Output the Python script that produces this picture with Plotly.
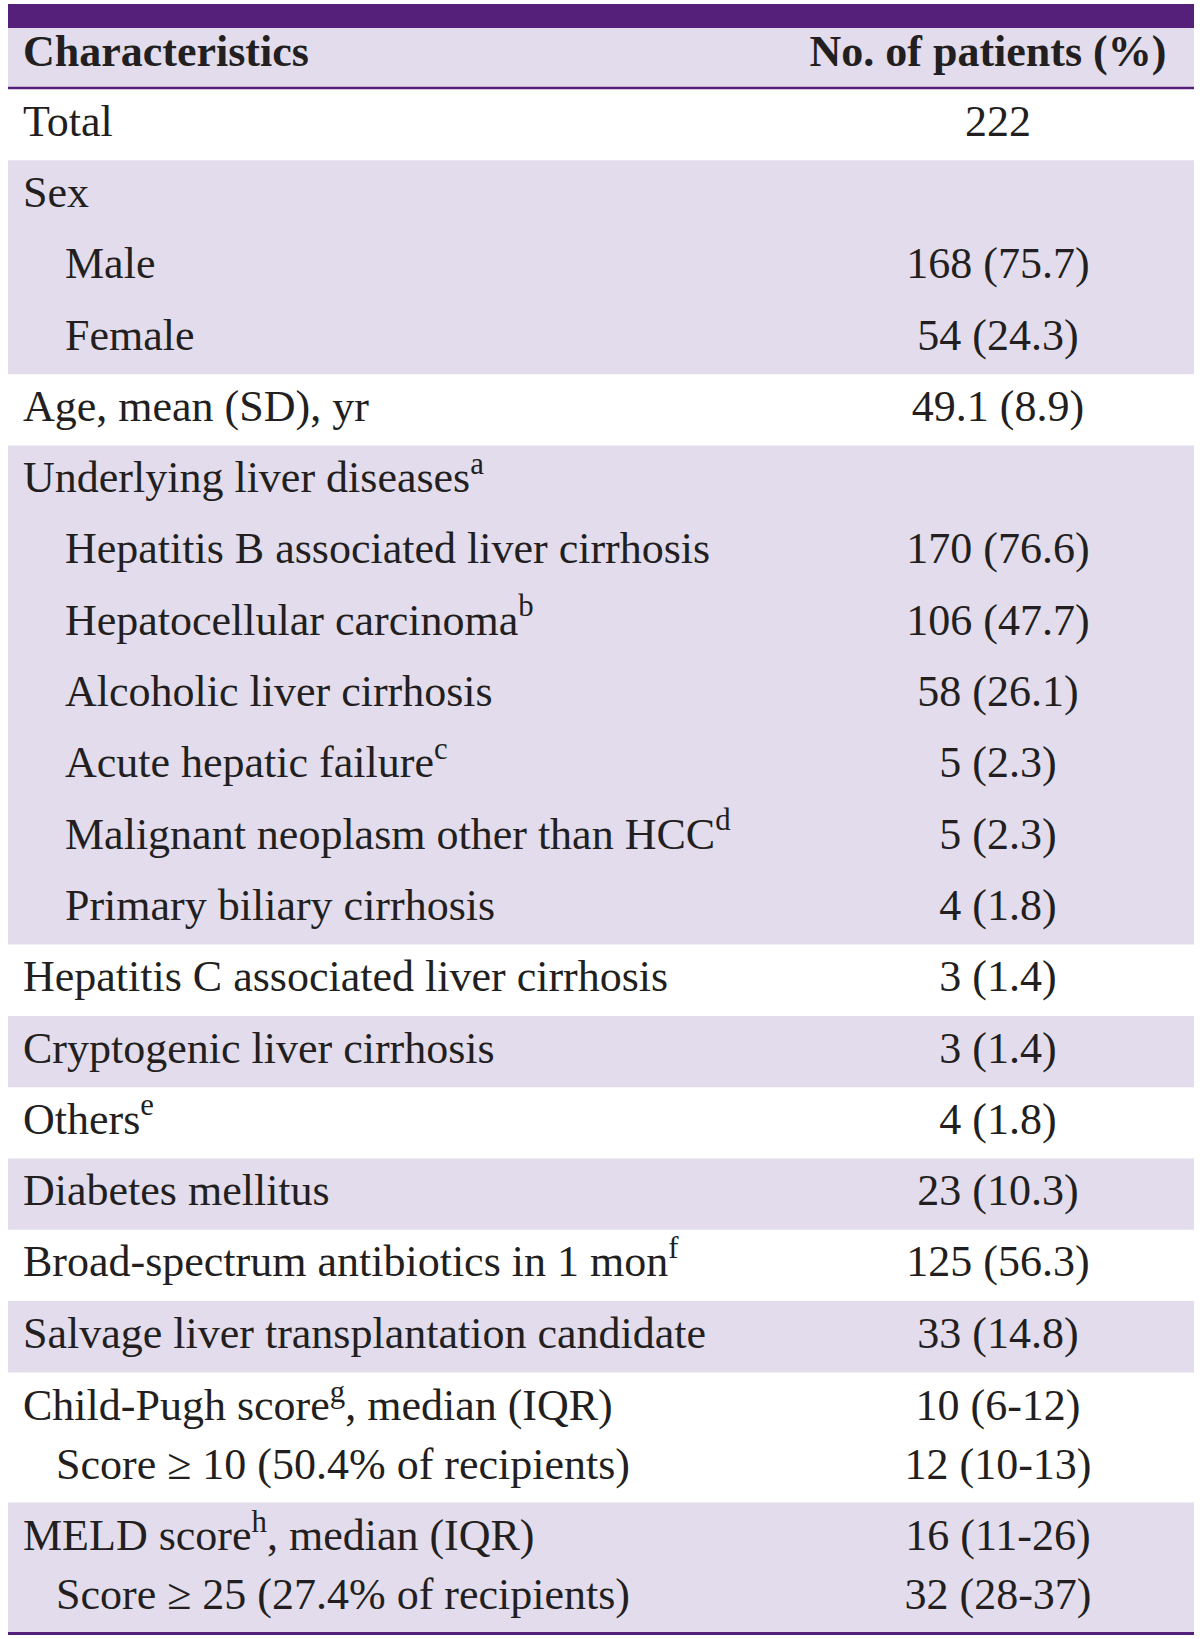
import plotly.graph_objects as go

# ---------------- data ----------------
header_left = "Characteristics"
header_right = "No. of patients (%)"

labels = [
    "Total", "Sex", "Male", "Female", "Age, mean (SD), yr",
    "Underlying liver diseases", "Hepatitis B associated liver cirrhosis",
    "Hepatocellular carcinoma", "Alcoholic liver cirrhosis",
    "Acute hepatic failure", "Malignant neoplasm other than HCC",
    "Primary biliary cirrhosis", "Hepatitis C associated liver cirrhosis",
    "Cryptogenic liver cirrhosis", "Others", "Diabetes mellitus",
    "Broad-spectrum antibiotics in 1 mon",
    "Salvage liver transplantation candidate",
    "Child-Pugh score, median (IQR)", "Score ≥ 10 (50.4% of recipients)",
    "MELD score, median (IQR)", "Score ≥ 25 (27.4% of recipients)",
]
footnotes = [
    "", "", "", "", "", "a", "", "b", "", "c", "d", "", "", "", "e", "",
    "f", "", "g", "", "h", "",
]
values = [
    "222", "", "168 (75.7)", "54 (24.3)", "49.1 (8.9)", "",
    "170 (76.6)", "106 (47.7)", "58 (26.1)", "5 (2.3)", "5 (2.3)",
    "4 (1.8)", "3 (1.4)", "3 (1.4)", "4 (1.8)", "23 (10.3)", "125 (56.3)",
    "33 (14.8)", "10 (6-12)", "12 (10-13)", "16 (11-26)", "32 (28-37)",
]
# 0 = top-level row, 1 = indented sub item, 2 = score sub line
levels = [0, 0, 1, 1, 0, 0, 1, 1, 1, 1, 1, 1, 0, 0, 0, 0, 0, 0, 0, 2, 0, 2]

# ---------------- style / layout ----------------
W, H = 1200, 1639
PURPLE = "#55207A"
LAVENDER = "#E2DCEC"
INK = "#231F20"
FONT = "Liberation Serif"
FS = 44
LEFT, RIGHT = 8, 1194
BAR_TOP, HEAD_TOP, HEAD_BOT = 4, 28, 87
BODY_TOP = 89
ROW_H = 71.3
COMPACT_H = 65
COMPACT_PARENT_SHIFT = 4.5
COMPACT_SUB_SHIFT = -2
X_LABEL = {0: 23, 1: 65, 2: 56}
X_VALUE = 998
X_HEAD_RIGHT = 988

# Label strings with footnote superscripts
label_text = []
for lab, fn in zip(labels, footnotes):
    if fn and " score," in lab:
        label_text.append(lab.replace(" score,", " score<sup>%s</sup>," % fn))
    elif fn:
        label_text.append(lab + "<sup>%s</sup>" % fn)
    else:
        label_text.append(lab)

# row geometry
n = len(labels)
compact = [levels[i] == 2 or (i + 1 < n and levels[i + 1] == 2) for i in range(n)]
tops, bots = [], []
y = BODY_TOP
for i in range(n):
    h = COMPACT_H if compact[i] else ROW_H
    tops.append(y)
    y += h
    bots.append(y)
TABLE_BOT = y
centers = []
for i in range(n):
    c = (tops[i] + bots[i]) / 2
    if compact[i]:
        c += COMPACT_SUB_SHIFT if levels[i] == 2 else COMPACT_PARENT_SHIFT
    centers.append(c)

# groups: a new group starts at each top-level row; groups alternate shading
groups = []
for i in range(n):
    if levels[i] == 0:
        groups.append([i, i])
    else:
        groups[-1][1] = i

fig = go.Figure()
shapes = []
shapes.append(dict(type="rect", xref="x", yref="y", x0=LEFT, x1=RIGHT,
                   y0=BAR_TOP, y1=HEAD_TOP, fillcolor=PURPLE, line_width=0, layer="below"))
shapes.append(dict(type="rect", xref="x", yref="y", x0=LEFT, x1=RIGHT,
                   y0=HEAD_TOP, y1=HEAD_BOT, fillcolor=LAVENDER, line_width=0, layer="below"))
shapes.append(dict(type="line", xref="x", yref="y", x0=LEFT, x1=RIGHT,
                   y0=(HEAD_BOT + BODY_TOP) / 2, y1=(HEAD_BOT + BODY_TOP) / 2,
                   line=dict(color=PURPLE, width=2.5), layer="above"))
for gi, (a, b) in enumerate(groups):
    if gi % 2 == 1:
        shapes.append(dict(type="rect", xref="x", yref="y", x0=LEFT, x1=RIGHT,
                           y0=tops[a], y1=bots[b], fillcolor=LAVENDER,
                           line_width=0, layer="below"))
shapes.append(dict(type="line", xref="x", yref="y", x0=LEFT, x1=RIGHT,
                   y0=TABLE_BOT + 1, y1=TABLE_BOT + 1,
                   line=dict(color=PURPLE, width=3), layer="above"))

tf = dict(family=FONT, size=FS, color=INK)
head_y = (HEAD_TOP + HEAD_BOT) / 2 - 3
fig.add_trace(go.Scatter(
    x=[X_LABEL[0]], y=[head_y], mode="text",
    text=["<b>%s</b>" % header_left], textposition="middle right",
    textfont=tf, hoverinfo="skip", showlegend=False))
fig.add_trace(go.Scatter(
    x=[X_HEAD_RIGHT], y=[head_y], mode="text",
    text=["<b>%s</b>" % header_right], textposition="middle center",
    textfont=tf, hoverinfo="skip", showlegend=False))
fig.add_trace(go.Scatter(
    x=[X_LABEL[l] for l in levels], y=centers, mode="text",
    text=label_text, textposition="middle right",
    textfont=tf, hoverinfo="skip", showlegend=False))
fig.add_trace(go.Scatter(
    x=[X_VALUE] * n, y=centers, mode="text",
    text=values, textposition="middle center",
    textfont=tf, hoverinfo="skip", showlegend=False))

fig.update_layout(
    width=W, height=H, margin=dict(l=0, r=0, t=0, b=0),
    paper_bgcolor="white", plot_bgcolor="white", shapes=shapes,
    xaxis=dict(range=[0, W], visible=False, fixedrange=True),
    yaxis=dict(range=[H, 0], visible=False, fixedrange=True),
)
fig.write_html(
    "out.html",
    config={"displayModeBar": False},
    post_script="document.body.style.margin='0';document.body.style.overflow='hidden';",
)
